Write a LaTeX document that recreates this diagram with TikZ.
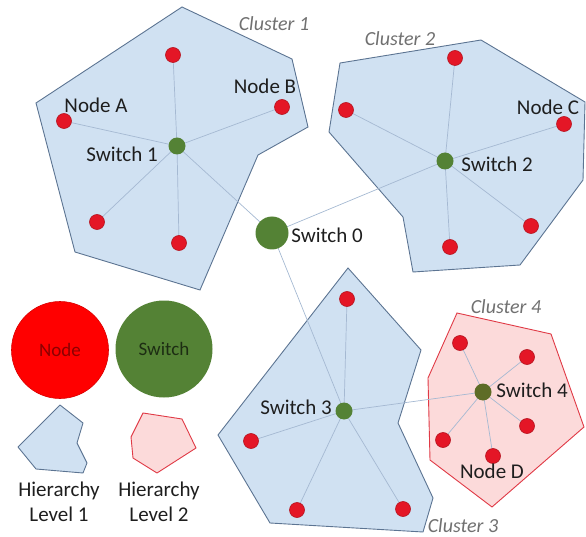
\documentclass[tikz,border=0pt]{standalone}
\usepackage{fontspec}
\setmainfont{Carlito}
\usetikzlibrary{backgrounds}
\definecolor{nodered}{RGB}{228,22,38}
\definecolor{swgreen}{RGB}{84,130,53}
\definecolor{swolive}{RGB}{94,108,38}
\definecolor{linkblue}{RGB}{165,185,210}
\definecolor{onefill}{RGB}{208,225,242}
\definecolor{oneline}{RGB}{92,116,146}
\definecolor{twofill}{RGB}{252,218,218}
\definecolor{twoline}{RGB}{224,58,70}
\definecolor{clugray}{RGB}{112,112,112}
\definecolor{txt}{RGB}{30,30,30}
\begin{document}
\begin{tikzpicture}[x=1pt,y=-1pt,line join=round,line cap=round,
	font=\fontsize{21}{25}\selectfont,
	dot/.style={circle,fill=nodered,draw=nodered!80!black,line width=.6pt,inner sep=0pt,minimum size=15pt},
	sw/.style={circle,fill=swgreen,inner sep=0pt,minimum size=17pt},
	link/.style={draw=linkblue,line width=.7pt},
	lvlone/.style={fill=onefill,draw=oneline,line width=.9pt},
	lvltwo/.style={fill=twofill,draw=twoline,line width=.9pt},
	lbl/.style={anchor=base,text=txt,inner sep=0pt},
	clu/.style={anchor=base,text=clugray,inner sep=0pt,font=\fontsize{20}{24}\selectfont\itshape}]
	\useasboundingbox (0,0) rectangle (586,537);
	%Switches
	\node[sw,minimum size=33pt] (s0) at (272,233) {};
	\node[sw] (s1) at (177,146) {};
	\node[sw] (s2) at (445,161) {};
	\node[sw] (s3) at (344,411) {};
	\node[sw,fill=swolive] (s4) at (483,392) {};
	%Nodes
	\foreach \n/\x/\y in {n1a/173/55, n1b/282/107, n1c/64/121, n1d/97/222, n1e/179/243,
		n2a/455/58, n2b/346/110, n2c/564/124, n2d/531/226, n2e/450/247,
		n3a/347/299, n3b/251/441, n3c/297/510, n3d/403/509,
		n4a/460/343, n4b/527/357, n4c/527/426, n4d/443/440, n4e/493/456} {
		\node[dot] (\n) at (\x,\y) {};
	}
	\begin{pgfonlayer}{background}
		%Clusters
		\draw[lvlone] (182,7)--(292,59)--(308,127)--(258,155)--(200,290)--(75,252)--(36,103)--cycle;
		\draw[lvlone] (340,63)--(481,40)--(585,102)--(583,180)--(520,265)--(413,272)--(403,217)--(329,132)--cycle;
		\draw[lvlone] (348,268)--(421,350)--(398,423)--(433,498)--(423,532)--(270,523)--(218,435)--cycle;
		\draw[lvltwo] (457,313)--(551,334)--(584,427)--(492,507)--(430,460)--(428,378)--cycle;
		%Links
		\foreach \s/\n in {s1/n1a, s1/n1b, s1/n1c, s1/n1d, s1/n1e,
			s2/n2a, s2/n2b, s2/n2c, s2/n2d, s2/n2e,
			s3/n3a, s3/n3b, s3/n3c, s3/n3d,
			s4/n4a, s4/n4b, s4/n4c, s4/n4d, s4/n4e,
			s0/s1, s0/s2, s0/s3, s3/s4} {
			\draw[link] (\s.center)--(\n.center);
		}
	\end{pgfonlayer}
	%Labels
	\node[lbl] (lnA) at (96,113) {Node A};
	\node[lbl] (lnB) at (265,94) {Node B};
	\node[lbl] (lnC) at (548,115) {Node C};
	\node[lbl] (lnD) at (492,478) {Node D};
	\node[lbl] (ls0) at (327,243) {Switch 0};
	\node[lbl] (ls1) at (122,162) {Switch 1};
	\node[lbl] (ls2) at (497,172) {Switch 2};
	\node[lbl] (ls3) at (296,414) {Switch 3};
	\node[lbl] (ls4) at (532,397) {Switch 4};
	\node[clu] (lc1) at (274,31) {Cluster 1};
	\node[clu] (lc2) at (400,46) {Cluster 2};
	\node[clu] (lc3) at (463,532) {Cluster 3};
	\node[clu] (lc4) at (506,313) {Cluster 4};
	%Legend
	\node[circle,fill=red,draw=red!85!black,line width=.6pt,minimum size=97pt,inner sep=0pt,
		text=red!55!black,font=\fontsize{19}{22}\selectfont] (kn) at (60,350) {Node};
	\node[circle,fill=swgreen,minimum size=97pt,inner sep=0pt,
		text=swgreen!35!black,font=\fontsize{19}{22}\selectfont] (ks) at (164,349) {Switch};
	\draw[lvlone] (60,405)--(83,423)--(77,443)--(87,463)--(83,473)--(36,469)--(18,447)--cycle;
	\draw[lvltwo] (143,413)--(182,419)--(196,448)--(157,473)--(133,458)--(131,437)--cycle;
	\node[lbl,align=center] (k1) at (59,521) {Hierarchy\\Level 1};
	\node[lbl,align=center] (k2) at (159,521) {Hierarchy\\Level 2};
\end{tikzpicture}
\end{document}
